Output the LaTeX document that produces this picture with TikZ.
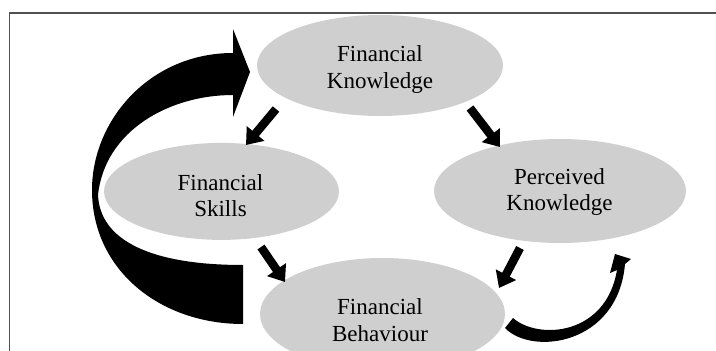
\documentclass[tikz,border=0pt]{standalone}
\usepackage{fontspec}
\setmainfont{Liberation Serif}
\usetikzlibrary{shapes.geometric,arrows.meta}
\definecolor{ellgray}{RGB}{208,207,207}
\definecolor{framegray}{RGB}{80,80,80}
\begin{document}
\begin{tikzpicture}[x=1pt,y=-1pt,
  ell/.style={ellipse, fill=ellgray, inner sep=0pt},
  lbl/.style={align=center, font=\fontsize{23}{26.5}\selectfont, inner sep=0pt},
  blk/.style={line width=8.5pt, -{Triangle[length=15pt,width=22pt]}},
]
\useasboundingbox (0,0) rectangle (716,351);
\draw[framegray, line width=1.3pt] (9.5,351) -- (9.5,13) -- (715.5,13);
% big feedback arrow
\fill (243,324) .. controls (160,324) and (92,270) .. (92,190)
  .. controls (92,120) and (150,53) .. (233,53) -- (233,29) -- (250,72)
  -- (233,117) -- (233,95) .. controls (170,95) and (105,130) .. (98,195)
  .. controls (100,240) and (150,265) .. (243,265) -- cycle;
% small curved arrow
\fill (505,328) .. controls (532,356) and (618,345) .. (625,264)
  -- (631,259) -- (615,254) -- (610,273) -- (617,270)
  .. controls (606,336) and (538,340) .. (513,318) -- cycle;
% ellipses
\node[ell, minimum width=246pt, minimum height=101pt] (fk) at (380,65.5) {};
\node[ell, minimum width=235pt, minimum height=97pt] (fs) at (221.5,191.4) {};
\node[ell, minimum width=252pt, minimum height=104pt] (pk) at (560,191) {};
\node[ell, minimum width=245pt, minimum height=112pt] (fb) at (382.5,314) {};
% labels
\node[lbl] (fkt) at (380,69.6) {Financial\\Knowledge};
\node[lbl] (fst) at (220.5,195.5) {Financial\\Skills};
\node[lbl] (pkt) at (559.5,192) {Perceived\\Knowledge};
\node[lbl] (fbt) at (380,320) {Financial\\Behaviour};
% arrow end points
\coordinate (a1s) at (276,109); \coordinate (a1e) at (246,145);
\coordinate (a2s) at (470,108); \coordinate (a2e) at (500,147);
\coordinate (a3s) at (261,247); \coordinate (a3e) at (285,282);
\coordinate (a4s) at (520,248); \coordinate (a4e) at (499,288);
\draw[blk] (a1s) -- (a1e);
\draw[blk] (a2s) -- (a2e);
\draw[blk] (a3s) -- (a3e);
\draw[blk] (a4s) -- (a4e);
\end{tikzpicture}
\end{document}
